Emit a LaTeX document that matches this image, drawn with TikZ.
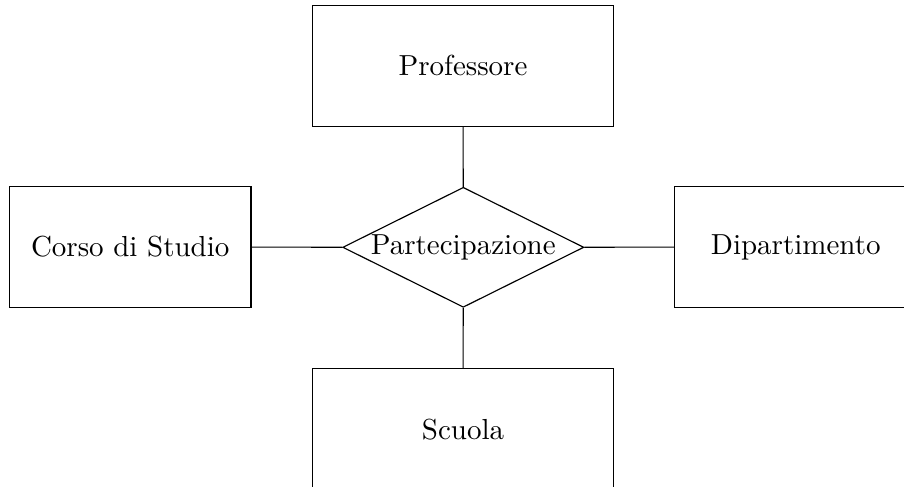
\documentclass[tikz,border=0pt]{standalone}
\usetikzlibrary{shapes.geometric}
\begin{document}
\begin{tikzpicture}[x=0.345pt,y=-0.345pt,
  entity/.style={draw,rectangle,inner sep=0pt,minimum height=41.6pt},
  wide/.style={entity,minimum width=104.1pt},
  narrow/.style={entity,minimum width=83.4pt},
  relation/.style={draw,diamond,aspect=2,inner sep=0pt,minimum width=83.2pt,minimum height=41.4pt}]
\useasboundingbox (0,0) rectangle (904,487);
\clip (0,0) rectangle (904,487);
\node[wide] (prof) at (463,65.8) {Professore};
\node[narrow] (corso) at (130.2,247) {Corso di Studio};
\node[narrow] (dip) at (795.7,247) {Dipartimento};
\node[wide] (scuola) at (463,429.2) {Scuola};
\node[relation] (rel) at (463.3,247.3) {Partecipazione};
\draw (prof) -- (rel);
\draw (corso) -- (rel);
\draw (rel) -- (dip);
\draw (rel) -- (scuola);
\end{tikzpicture}
\end{document}
